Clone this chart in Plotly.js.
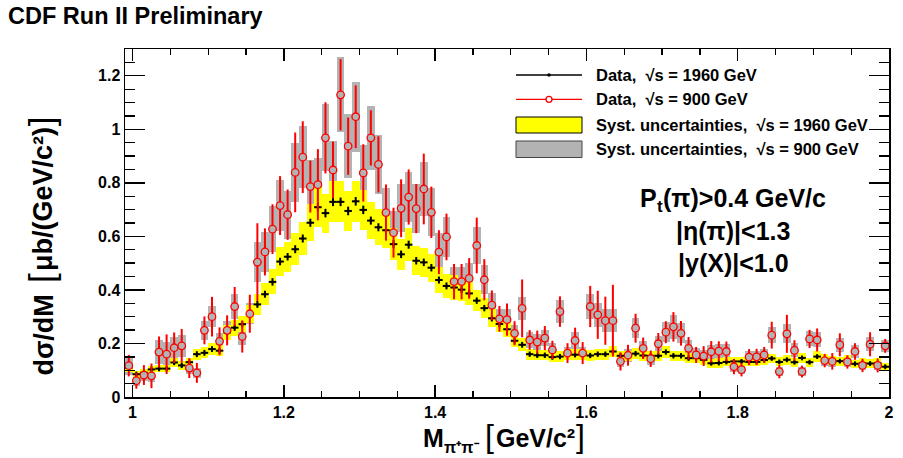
<!DOCTYPE html>
<html>
<head>
<meta charset="utf-8">
<script src="https://cdn.plot.ly/plotly-3.0.1.min.js"></script>
<style>
  html, body { margin: 0; padding: 0; background: #fff; }
  #chart { width: 903px; height: 458px; }
</style>
</head>
<body>
<div id="chart"></div>
<script>
// pi+pi- invariant mass spectrum, 10 MeV bins from 0.99 to 2.00 GeV/c^2
const binLow = 0.99;
const binWidth = 0.01;

// dsigma/dM [ub/(GeV/c^2)], sqrt(s) = 1960 GeV
const data1960 = [0.109,0.085,0.091,0.103,0.106,0.106,0.129,0.118,0.130,0.160,
  0.165,0.179,0.173,0.241,0.259,0.272,0.310,0.346,0.384,0.430,
  0.506,0.524,0.552,0.592,0.651,0.709,0.687,0.729,0.729,0.695,
  0.731,0.699,0.659,0.634,0.623,0.571,0.533,0.569,0.509,0.503,
  0.483,0.437,0.415,0.409,0.401,0.387,0.360,0.332,0.294,0.273,
  0.253,0.210,0.195,0.160,0.156,0.156,0.149,0.151,0.158,0.158,
  0.160,0.155,0.160,0.160,0.170,0.154,0.154,0.162,0.155,0.154,
  0.154,0.168,0.154,0.154,0.145,0.145,0.139,0.126,0.127,0.131,
  0.133,0.133,0.131,0.131,0.138,0.144,0.131,0.139,0.130,0.146,
  0.130,0.151,0.141,0.137,0.134,0.139,0.124,0.127,0.125,0.127,
  0.113];
const stat1960 = [0.010,0.010,0.010,0.010,0.010,0.010,0.010,0.010,0.010,0.011,
  0.011,0.011,0.011,0.012,0.012,0.012,0.013,0.013,0.013,0.014,
  0.014,0.014,0.015,0.015,0.015,0.016,0.016,0.016,0.016,0.016,
  0.016,0.016,0.015,0.015,0.015,0.015,0.014,0.015,0.014,0.014,
  0.014,0.013,0.013,0.013,0.013,0.013,0.012,0.012,0.012,0.012,
  0.011,0.011,0.011,0.010,0.010,0.010,0.010,0.010,0.010,0.010,
  0.010,0.010,0.010,0.010,0.010,0.010,0.010,0.010,0.010,0.010,
  0.010,0.010,0.010,0.010,0.010,0.010,0.010,0.009,0.009,0.009,
  0.009,0.009,0.009,0.009,0.009,0.009,0.009,0.009,0.009,0.009,
  0.009,0.009,0.009,0.009,0.009,0.009,0.009,0.009,0.009,0.009,
  0.009];
const syst1960 = [0.015,0.013,0.013,0.014,0.014,0.014,0.017,0.016,0.017,0.020,
  0.020,0.022,0.021,0.028,0.030,0.031,0.035,0.039,0.042,0.047,
  0.054,0.056,0.059,0.063,0.069,0.075,0.073,0.077,0.077,0.073,
  0.077,0.074,0.070,0.067,0.066,0.061,0.057,0.061,0.055,0.054,
  0.052,0.048,0.045,0.045,0.044,0.043,0.040,0.037,0.033,0.031,
  0.029,0.025,0.024,0.020,0.019,0.019,0.019,0.019,0.020,0.020,
  0.020,0.019,0.020,0.020,0.021,0.019,0.019,0.020,0.019,0.019,
  0.019,0.021,0.019,0.019,0.018,0.018,0.018,0.017,0.017,0.017,
  0.017,0.017,0.017,0.017,0.018,0.018,0.017,0.018,0.017,0.018,
  0.017,0.019,0.018,0.018,0.017,0.018,0.016,0.017,0.016,0.017,
  0.015];

// dsigma/dM [ub/(GeV/c^2)], sqrt(s) = 900 GeV
const data900 = [0.117,0.061,0.082,0.079,0.168,0.160,0.184,0.191,0.108,0.090,
  0.249,0.300,0.208,0.249,0.338,0.226,0.311,0.504,0.542,0.627,
  0.715,0.681,0.839,0.896,0.786,0.793,0.968,0.848,1.129,0.937,
  1.047,0.837,0.968,0.869,0.689,0.614,0.705,0.747,0.704,0.777,
  0.690,0.541,0.598,0.431,0.431,0.443,0.566,0.438,0.343,0.292,
  0.289,0.238,0.331,0.213,0.205,0.220,0.176,0.319,0.164,0.211,
  0.164,0.338,0.307,0.285,0.285,0.133,0.156,0.257,0.182,0.143,
  0.199,0.242,0.262,0.238,0.182,0.157,0.153,0.169,0.171,0.170,
  0.113,0.102,0.149,0.150,0.157,0.231,0.095,0.236,0.174,0.095,
  0.217,0.213,0.136,0.133,0.195,0.131,0.170,0.118,0.197,0.118,
  0.191];
const stat900 = [0.040,0.030,0.037,0.046,0.058,0.074,0.057,0.063,0.037,0.037,
  0.052,0.074,0.052,0.056,0.073,0.060,0.071,0.145,0.088,0.093,
  0.110,0.094,0.149,0.134,0.097,0.133,0.133,0.106,0.133,0.107,
  0.117,0.107,0.103,0.105,0.105,0.093,0.108,0.103,0.092,0.132,
  0.096,0.082,0.087,0.066,0.066,0.076,0.104,0.077,0.055,0.048,
  0.060,0.045,0.108,0.037,0.043,0.045,0.034,0.057,0.037,0.048,
  0.041,0.077,0.090,0.090,0.134,0.034,0.039,0.054,0.040,0.031,
  0.040,0.041,0.055,0.046,0.042,0.030,0.037,0.040,0.037,0.037,
  0.028,0.025,0.030,0.030,0.030,0.050,0.025,0.071,0.038,0.022,
  0.034,0.043,0.025,0.031,0.043,0.025,0.031,0.025,0.045,0.026,
  0.026];
const syst900 = [0.035,0.020,0.022,0.022,0.045,0.045,0.040,0.040,0.022,0.020,
  0.035,0.040,0.030,0.035,0.045,0.032,0.040,0.075,0.075,0.085,
  0.095,0.090,0.110,0.115,0.100,0.100,0.125,0.110,0.140,0.120,
  0.130,0.105,0.120,0.110,0.090,0.080,0.090,0.095,0.090,0.100,
  0.090,0.070,0.075,0.055,0.055,0.057,0.070,0.055,0.045,0.038,
  0.038,0.032,0.043,0.030,0.030,0.030,0.025,0.043,0.024,0.030,
  0.024,0.048,0.045,0.042,0.042,0.020,0.024,0.038,0.028,0.022,
  0.030,0.037,0.045,0.038,0.030,0.025,0.024,0.026,0.027,0.027,
  0.018,0.017,0.022,0.022,0.024,0.030,0.016,0.035,0.026,0.016,
  0.028,0.028,0.020,0.020,0.026,0.020,0.024,0.018,0.026,0.018,
  0.022];

const legendLabels = [
  'Data,  √s = 1960 GeV',
  'Data,  √s = 900 GeV',
  'Syst. uncertainties,  √s = 1960 GeV',
  'Syst. uncertainties,  √s = 900 GeV'
];

// bin centres
const mass = data1960.map((_, i) => +(binLow + binWidth * (i + 0.5)).toFixed(3));

const GRAY = '#b3b3b3';
const YELLOW = '#ffff00';
const FAMILY = 'Liberation Sans';
const FONT = FAMILY + ', Arial, Helvetica, sans-serif';

function band(values, syst, color) {
  return {
    type: 'bar', x: mass,
    base: values.map((v, i) => v - syst[i]),
    y: syst.map(s => 2 * s),
    width: binWidth,
    marker: { color: color, line: { width: 0 } },
    hoverinfo: 'skip', showlegend: false
  };
}

const traces = [
  band(data900, syst900, GRAY),
  band(data1960, syst1960, YELLOW),
  {
    type: 'scatter', mode: 'markers', x: mass, y: data1960,
    marker: { color: 'black', size: 3 },
    error_y: { type: 'data', array: stat1960, color: 'black', thickness: 2, width: 0 },
    error_x: { type: 'constant', value: binWidth / 2, color: 'black', thickness: 2, width: 0 },
    showlegend: false
  },
  {
    type: 'scatter', mode: 'markers', x: mass, y: data900,
    marker: { symbol: 'circle', color: GRAY, size: 7.5, line: { color: '#ff0000', width: 1.3 } },
    error_y: { type: 'data', array: stat900, color: '#ff0000', thickness: 2, width: 0 },
    error_x: { type: 'constant', value: binWidth / 2, color: '#ff0000', thickness: 1.5, width: 0 },
    showlegend: false
  }
];

// plot frame in pixels
const L = 125, R = 889, T = 49, B = 397;
const W = 903, H = 458;
const px = x => (x - L) / (R - L);
const py = y => (B - y) / (B - T);

// text pieces are laid out from their measured widths so that sub/superscripts
// and tall brackets sit on a common baseline
const measureCtx = document.createElement('canvas').getContext('2d');
function textWidth(t, size, weight) {
  measureCtx.font = weight + ' ' + size + 'px "' + FAMILY + '"';
  return measureCtx.measureText(t).width;
}
const MID = 0.3465; // baseline-to-box-centre, in em
const annotations = [];
function label(t, x, y, size, weight, extra) {
  annotations.push(Object.assign({
    text: t, x: px(x), y: py(y), xref: 'paper', yref: 'paper', showarrow: false,
    borderpad: 0, borderwidth: 0,
    font: { family: FONT, size: size, weight: weight, color: 'black' }
  }, extra || {}));
}
function hRow(parts, centerX, baseY) {
  const widths = parts.map(p => textWidth(p.t, p.size, p.weight) + (p.gap || 0));
  let cur = centerX - widths.reduce((a, b) => a + b, 0) / 2;
  parts.forEach((p, i) => {
    label(p.t, cur, baseY + (p.drop || 0) - MID * p.size, p.size, p.weight,
      { xanchor: 'left', yanchor: 'middle' });
    cur += widths[i];
  });
}
function vRow(parts, baseX, centerY) {
  const widths = parts.map(p => textWidth(p.t, p.size, p.weight) + (p.gap || 0));
  let cur = centerY + widths.reduce((a, b) => a + b, 0) / 2;
  parts.forEach((p, i) => {
    label(p.t, baseX - MID * p.size, cur, p.size, p.weight,
      { xanchor: 'center', yanchor: 'bottom', textangle: -90 });
    cur -= widths[i];
  });
}

label('CDF Run II Preliminary', 8, 16, 23.5, 'bold', { xanchor: 'left', yanchor: 'middle' });

// x title: M_{pi+pi-} [GeV/c^2]
hRow([
  { t: 'M', size: 25, weight: 'bold' },
  { t: 'π⁺π⁻', size: 16, weight: 'bold', drop: 6, gap: 7 },
  { t: '[', size: 32, weight: 'normal', gap: 2 },
  { t: 'GeV/c²', size: 25, weight: 'bold', gap: 1 },
  { t: ']', size: 32, weight: 'normal' }
], 504, 447);

// y title: dsigma/dM [ub/(GeV/c^2)]
vRow([
  { t: 'dσ/dM', size: 27, weight: 'bold', gap: 11 },
  { t: '[', size: 35, weight: 'normal', gap: 2 },
  { t: 'μb/(GeV/c²)', size: 27, weight: 'bold', gap: 1 },
  { t: ']', size: 35, weight: 'normal' }
], 53, 246);

// selection cuts
hRow([
  { t: 'P', size: 25, weight: 'bold' },
  { t: 't', size: 17, weight: 'bold', drop: 5 },
  { t: '(π)>0.4 GeV/c', size: 25, weight: 'bold' }
], 733, 207);
label('|η(π)|<1.3', 733, 231, 25, 'bold', { xanchor: 'center', yanchor: 'middle' });
label('|y(X)|<1.0', 733, 263, 25, 'bold', { xanchor: 'center', yanchor: 'middle' });

// legend
const legY = [75, 99.3, 125, 149.3];
legendLabels.forEach((t, i) =>
  label(t, 596, legY[i], 16.5, 'bold', { xanchor: 'left', yanchor: 'middle' }));

const shapes = [
  { type: 'line', x0: px(516), x1: px(582), y0: py(75), y1: py(75), line: { color: 'black', width: 1.3 } },
  { type: 'circle', xsizemode: 'pixel', ysizemode: 'pixel', xanchor: px(549), yanchor: py(75),
    x0: -1.8, x1: 1.8, y0: -1.8, y1: 1.8, fillcolor: 'black', line: { width: 0 } },
  { type: 'line', x0: px(516), x1: px(582), y0: py(99.3), y1: py(99.3), line: { color: '#ff0000', width: 1.3 } },
  { type: 'circle', xsizemode: 'pixel', ysizemode: 'pixel', xanchor: px(549), yanchor: py(99.3),
    x0: -3, x1: 3, y0: -3, y1: 3, fillcolor: 'white', line: { color: '#ff0000', width: 1.3 } },
  { type: 'rect', x0: px(516), x1: px(582), y0: py(133), y1: py(117), fillcolor: YELLOW, line: { color: 'black', width: 1 } },
  { type: 'rect', x0: px(516), x1: px(582), y0: py(157.5), y1: py(141), fillcolor: GRAY, line: { color: '#444', width: 1 } }
];
shapes.forEach(s => { s.xref = 'paper'; s.yref = 'paper'; });

const axisCommon = {
  showgrid: false, zeroline: false, showline: true, linecolor: 'black', linewidth: 1.5,
  mirror: 'allticks', ticks: 'inside', tickcolor: 'black', tickwidth: 1.3,
  tickfont: { family: FONT, size: 16, weight: 'bold', color: 'black' }
};

const layout = {
  width: W, height: H,
  margin: { l: L, r: W - R, t: T, b: H - B },
  paper_bgcolor: 'white', plot_bgcolor: 'white',
  barmode: 'overlay', bargap: 0,
  showlegend: false,
  xaxis: Object.assign({}, axisCommon, {
    range: [0.99, 2.0], tick0: 0, dtick: 0.2, ticklen: 12,
    minor: { dtick: 0.05, ticks: 'inside', ticklen: 6, tickcolor: 'black', tickwidth: 1.3, showgrid: false }
  }),
  yaxis: Object.assign({}, axisCommon, {
    range: [0, 1.3], tick0: 0, dtick: 0.2, ticklen: 20,
    minor: { dtick: 0.05, ticks: 'inside', ticklen: 10, tickcolor: 'black', tickwidth: 1.3, showgrid: false }
  }),
  annotations: annotations,
  shapes: shapes
};

Plotly.newPlot('chart', traces, layout, { staticPlot: true, displayModeBar: false });
</script>
</body>
</html>
